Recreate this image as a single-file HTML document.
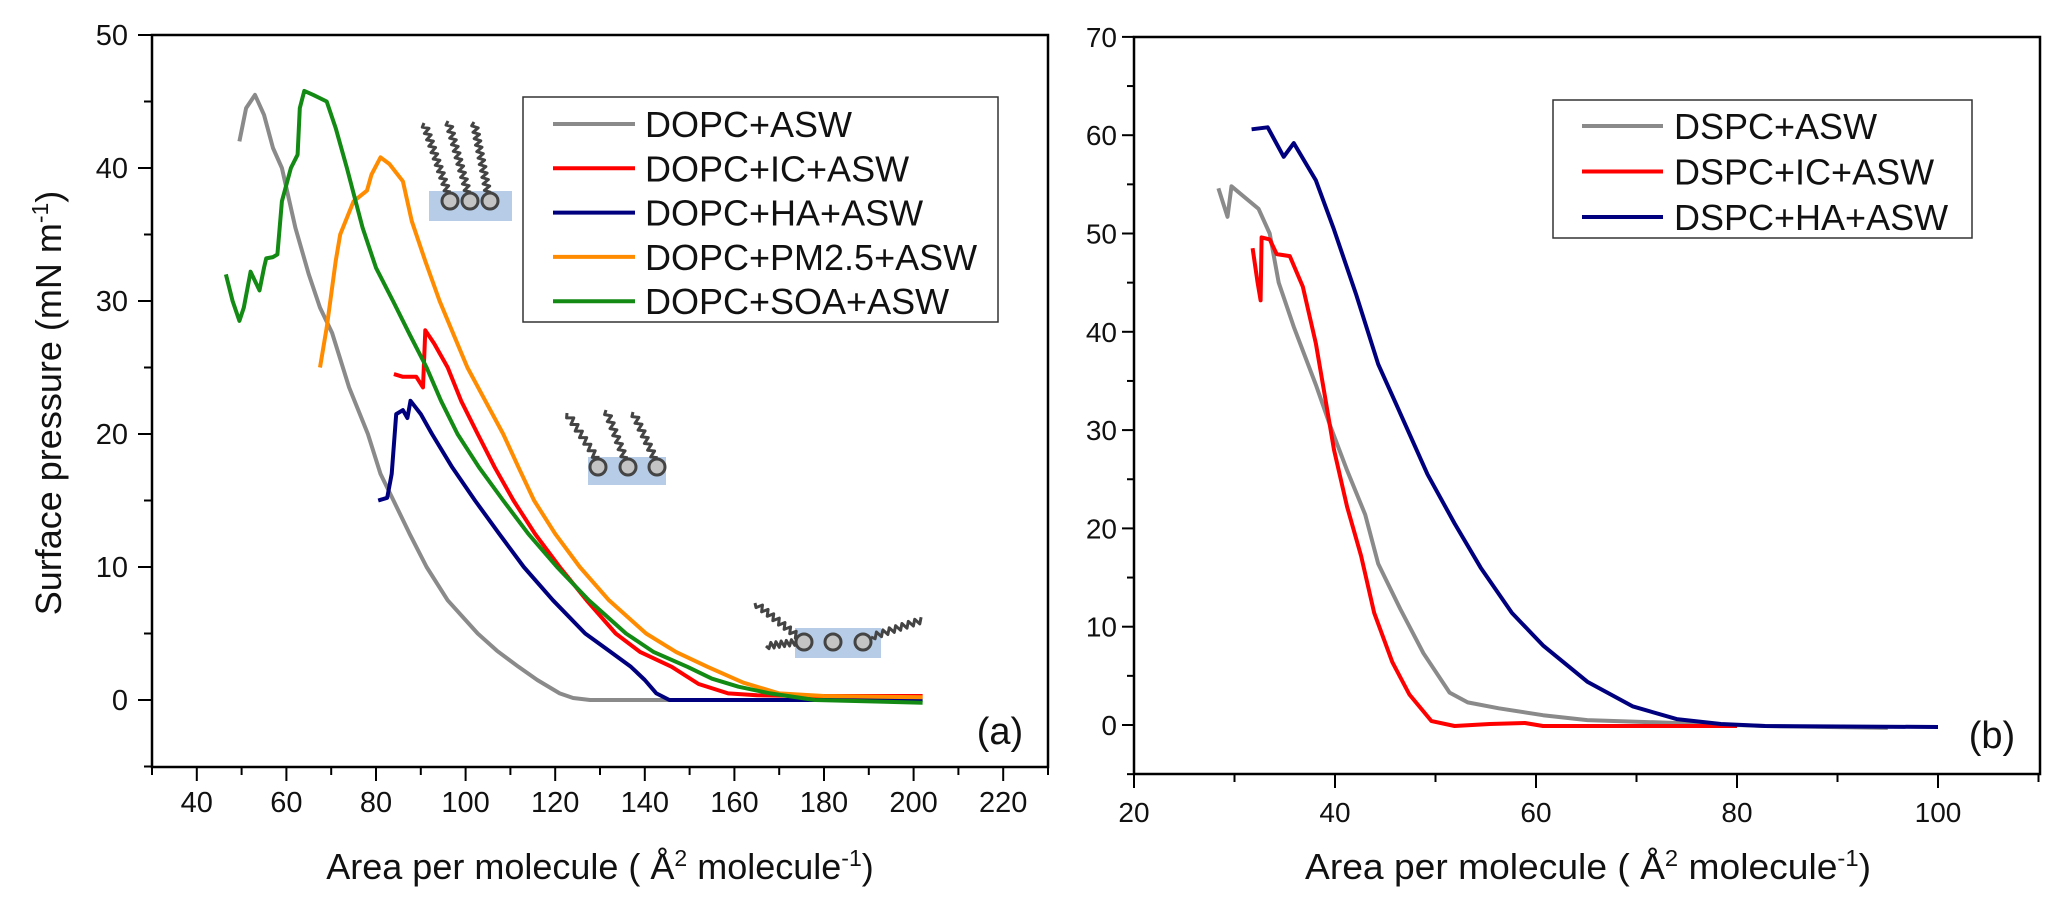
<!DOCTYPE html>
<html><head><meta charset="utf-8"><style>
html,body{margin:0;padding:0;background:#fff;}
svg{display:block;font-family:"Liberation Sans",Arial,sans-serif;}
</style></head><body>
<svg id="fig" width="2067" height="913" viewBox="0 0 2067 913" xmlns="http://www.w3.org/2000/svg">
<g id="pa"></g>
<g id="pb"></g>
</svg>
<script>
// ---------- Panel (a) data ----------
const aGray = [[49.5,42],[51,44.5],[53,45.5],[55,44],[57,41.5],[59,40],[62,35.5],[65,32],[67.5,29.5],[70.2,27.6],[74,23.5],[78.2,20],[81,17],[83.9,15],[87.5,12.5],[91.3,10],[96,7.5],[102.7,5],[107,3.7],[111.8,2.5],[116,1.5],[121,0.5],[124,0.15],[127.8,0],[200,0]];
const aRed = [[84,24.5],[86,24.3],[89,24.3],[90.5,23.5],[91,27.8],[93,26.8],[96,25],[99,22.5],[102.7,20],[106.5,17.5],[110.7,15],[115.5,12.5],[121,10],[127,7.5],[133.5,5],[139,3.6],[146,2.5],[152,1.2],[158.6,0.5],[165,0.35],[175,0.3],[202,0.3]];
const aBlue = [[80.5,15],[82.5,15.2],[83.5,17],[84.5,21.5],[86,21.8],[87,21.2],[87.7,22.5],[90,21.5],[92.5,20],[97,17.5],[102.1,15],[107.5,12.5],[113,10],[119.5,7.5],[126.7,5],[132,3.7],[136.9,2.5],[140,1.5],[142.6,0.5],[145.5,0],[202,0]];
const aOrange = [[67.5,25],[69,28],[71,33],[72,35],[75,37.5],[78,38.3],[79,39.5],[81,40.8],[83,40.3],[86,39],[88,36],[91,33],[94.2,30],[97.3,27.5],[100.4,25],[104.4,22.5],[108.4,20],[111.8,17.5],[115.3,15],[120,12.5],[125.5,10],[132,7.5],[140.3,5],[147,3.6],[154,2.5],[162,1.3],[170,0.5],[180,0.3],[202,0.2]];
const aGreen = [[46.5,32],[48,30],[49.5,28.5],[50.5,29.5],[52,32.2],[53,31.5],[54,30.8],[55,32.5],[55.5,33.2],[57,33.3],[58,33.5],[59,37.5],[61,40],[62.5,41],[63,44.5],[64,45.8],[66,45.5],[69,45],[71,43],[73.5,40],[77,35.5],[80,32.5],[83.8,30],[87.5,27.5],[91.3,25],[94.5,22.5],[98.2,20],[103,17.5],[108.4,15],[114,12.5],[120.4,10],[127.5,7.5],[135.8,5],[142,3.6],[149.5,2.5],[155,1.6],[160.9,1],[168,0.5],[178,0],[202,-0.2]];
const aXTicks = [40,60,80,100,120,140,160,180,200,220];
const aYTicks = [0,10,20,30,40,50];
const aLegend = ["DOPC+ASW","DOPC+IC+ASW","DOPC+HA+ASW","DOPC+PM2.5+ASW","DOPC+SOA+ASW"];
// ---------- Panel (b) data ----------
const bGray = [[28.4,54.6],[29.3,51.7],[29.7,54.8],[32.4,52.5],[33.5,50],[34.4,45],[35.9,40.5],[38.1,34.6],[39.5,30.5],[41.2,25.9],[43,21.4],[44.3,16.4],[46.5,11.8],[48.8,7.3],[51.4,3.3],[53.2,2.3],[56.3,1.7],[60.7,1],[65.1,0.5],[74,0.2],[82.8,-0.1],[95,-0.3]];
const bRed = [[31.8,48.5],[32.3,45],[32.6,43.2],[32.7,49.6],[33.5,49.4],[34.2,47.9],[35.5,47.7],[36.8,44.6],[38.1,38.8],[39,33.4],[39.9,28],[41.2,22.2],[42.6,17.2],[43.9,11.4],[45.7,6.4],[47.4,3.1],[49.6,0.4],[51.9,-0.1],[55.4,0.1],[58.9,0.2],[60.7,-0.1],[80,-0.1]];
const bBlue = [[31.7,60.6],[33.3,60.8],[34.9,57.8],[35.9,59.2],[38.1,55.4],[39.9,50.4],[42.1,43.8],[44.3,36.7],[46.5,31.7],[49.2,25.5],[51.9,20.5],[54.5,16],[57.6,11.4],[60.7,8.1],[65.1,4.4],[69.6,1.9],[74,0.6],[78.4,0.1],[82.8,-0.1],[100,-0.2]];
const bXTicks = [20,40,60,80,100];
const bYTicks = [0,10,20,30,40,50,60,70];
const bLegend = ["DSPC+ASW","DSPC+IC+ASW","DSPC+HA+ASW"];

const NS="http://www.w3.org/2000/svg";
function mk(parent,tag,attrs,text){const e=document.createElementNS(NS,tag);for(const k in attrs)e.setAttribute(k,attrs[k]);if(text!==undefined)e.textContent=text;parent.appendChild(e);return e;}

const ax = v=>152+(v-30)*4.48, ay = v=>700-v*13.3;
const bx = v=>1134+(v-20)*10.05, by = v=>725-v*9.83;

function drawLine(g,data,fx,fy,color,name){
  const d=data.map((p,i)=>(i?'L':'M')+fx(p[0]).toFixed(1)+' '+fy(p[1]).toFixed(1)).join(' ');
  const e=mk(g,'path',{d:d,fill:'none',stroke:color,'stroke-width':4,'stroke-linejoin':'round'});
  
  
}

const pa=document.getElementById('pa'), pb=document.getElementById('pb');
const colors=['#8a8a8a','#ff0000','#00007f','#ff8c00','#138a13'];

// ---- Panel a frame
let fr=mk(pa,'rect',{x:152,y:35,width:896,height:732,fill:'none',stroke:'#000','stroke-width':2.5});


for(let v=-5;v<=50;v+=5){const y=ay(v);const major=v%10===0;mk(pa,'line',{x1:152,x2:major?138:144,y1:y,y2:y,stroke:'#000','stroke-width':2});}
aYTicks.forEach(v=>{const t=mk(pa,'text',{x:128,y:ay(v)+10,'font-size':29,'text-anchor':'end',fill:'#111'},String(v));

});
for(let v=30;v<=230;v+=10){const x=ax(v);const major=v%20===0;mk(pa,'line',{x1:x,x2:x,y1:767,y2:major?781:775,stroke:'#000','stroke-width':2});}
aXTicks.forEach(v=>{const t=mk(pa,'text',{x:ax(v),y:812,'font-size':29,'text-anchor':'middle',fill:'#111'},String(v));

});
let yt=mk(pa,'text',{x:0,y:0,'font-size':36,'text-anchor':'middle',transform:'translate(61,403) rotate(-90)',fill:'#111'});
yt.innerHTML='Surface pressure (mN m<tspan dy="-13" font-size="23">-1</tspan><tspan dy="13">)</tspan>';


let xt=mk(pa,'text',{x:600,y:879,'font-size':36,'text-anchor':'middle',fill:'#111'});
xt.innerHTML='Area per molecule ( Å<tspan dy="-13" font-size="23">2</tspan><tspan dy="13"> molecule</tspan><tspan dy="-13" font-size="23">-1</tspan><tspan dy="13">)</tspan>';


let la=mk(pa,'text',{x:1000,y:744,'font-size':38,'text-anchor':'middle',fill:'#111'},'(a)');



function zig(g,x1,y1,x2,y2,n,amp){const dx=x2-x1,dy=y2-y1,L=Math.hypot(dx,dy),nx=-dy/L,ny=dx/L;let d='M'+x1+' '+y1;
 for(let i=1;i<=n;i++){const t=i/n,s=(i%2?1:-1)*amp;d+=' L'+(x1+dx*t+nx*s).toFixed(1)+' '+(y1+dy*t+ny*s).toFixed(1);}
 mk(g,'path',{d:d,fill:'none',stroke:'#444','stroke-width':3,'stroke-linejoin':'round'});}
function inset(name,rect,circles,tails){const g=mk(pa,'g',{});
 
 
 mk(g,'rect',{x:rect[0],y:rect[1],width:rect[2],height:rect[3],fill:'#b7cce6'});
 tails.forEach(t=>zig(g,t[0],t[1],t[2],t[3],t[4],3));
 circles.forEach(c=>mk(g,'circle',{cx:c[0],cy:c[1],r:8,fill:'#c4c4c4',stroke:'#444','stroke-width':3}));}
inset('lipid-inset-condensed',[429,191,83,30],[[450,201],[470,201],[490,201]],[[424,123,448,193,22],[448,121,468,193,22],[474,122,488,193,22]]);
inset('lipid-inset-expanded',[588,457,78,28],[[598,467],[628,467],[657,467]],[[567,413,597,459,14],[606,410,625,459,14],[633,412,655,459,14]]);
inset('lipid-inset-gaseous',[795,628,86,30],[[804,642],[833,642],[863,642]],[[755,603,800,638,16],[766,646,797,642,12],[871,637,922,620,16]]);

[aGray,aRed,aBlue,aOrange,aGreen].forEach((d,i)=>drawLine(pa,d,ax,ay,colors[i],'curve-'+aLegend[i].toLowerCase().replace(/[+.]/g,'-')));

let lg=mk(pa,'g',{});


mk(lg,'rect',{x:523,y:97,width:475,height:225,fill:'#fff',stroke:'#333','stroke-width':1.5});
aLegend.forEach((s,i)=>{const y=124+i*44.3;const e=mk(lg,'g',{});
 
 
 mk(e,'line',{x1:553,x2:635,y1:y,y2:y,stroke:colors[i],'stroke-width':4});
 mk(e,'text',{x:645,y:y+13,'font-size':36,fill:'#111'},s);});

// ---- Panel b
const bcol=[colors[0],colors[1],colors[2]];
let fb=mk(pb,'rect',{x:1134,y:37,width:906,height:737,fill:'none',stroke:'#000','stroke-width':2.5});


for(let v=-5;v<=70;v+=5){const y=by(v);const major=v%10===0;mk(pb,'line',{x1:1134,x2:major?1122:1127,y1:y,y2:y,stroke:'#000','stroke-width':2});}
bYTicks.forEach(v=>{const t=mk(pb,'text',{x:1117,y:by(v)+10,'font-size':28,'text-anchor':'end',fill:'#111'},String(v));

});
for(let v=20;v<=110;v+=10){const x=bx(v);const major=v%20===0;mk(pb,'line',{x1:x,x2:x,y1:774,y2:major?788:782,stroke:'#000','stroke-width':2});}
bXTicks.forEach(v=>{const t=mk(pb,'text',{x:bx(v),y:822,'font-size':28,'text-anchor':'middle',fill:'#111'},String(v));

});
let xtb=mk(pb,'text',{x:1305,y:879,'font-size':36,fill:'#111',textLength:566,lengthAdjust:'spacingAndGlyphs'});
xtb.innerHTML='Area per molecule ( Å<tspan dy="-13" font-size="23">2</tspan><tspan dy="13"> molecule</tspan><tspan dy="-13" font-size="23">-1</tspan><tspan dy="13">)</tspan>';


let lb=mk(pb,'text',{x:1992,y:748,'font-size':38,'text-anchor':'middle',fill:'#111'},'(b)');


[bGray,bRed,bBlue].forEach((d,i)=>drawLine(pb,d,bx,by,bcol[i],'curve-'+bLegend[i].toLowerCase().replace(/[+.]/g,'-')));
let lgb=mk(pb,'g',{});


mk(lgb,'rect',{x:1553,y:100,width:419,height:138,fill:'#fff',stroke:'#333','stroke-width':1.5});
bLegend.forEach((s,i)=>{const y=126+i*45.5;const e=mk(lgb,'g',{});
 
 
 mk(e,'line',{x1:1582,x2:1663,y1:y,y2:y,stroke:bcol[i],'stroke-width':4});
 mk(e,'text',{x:1674,y:y+13,'font-size':36,fill:'#111'},s);});
</script>
</body></html>
